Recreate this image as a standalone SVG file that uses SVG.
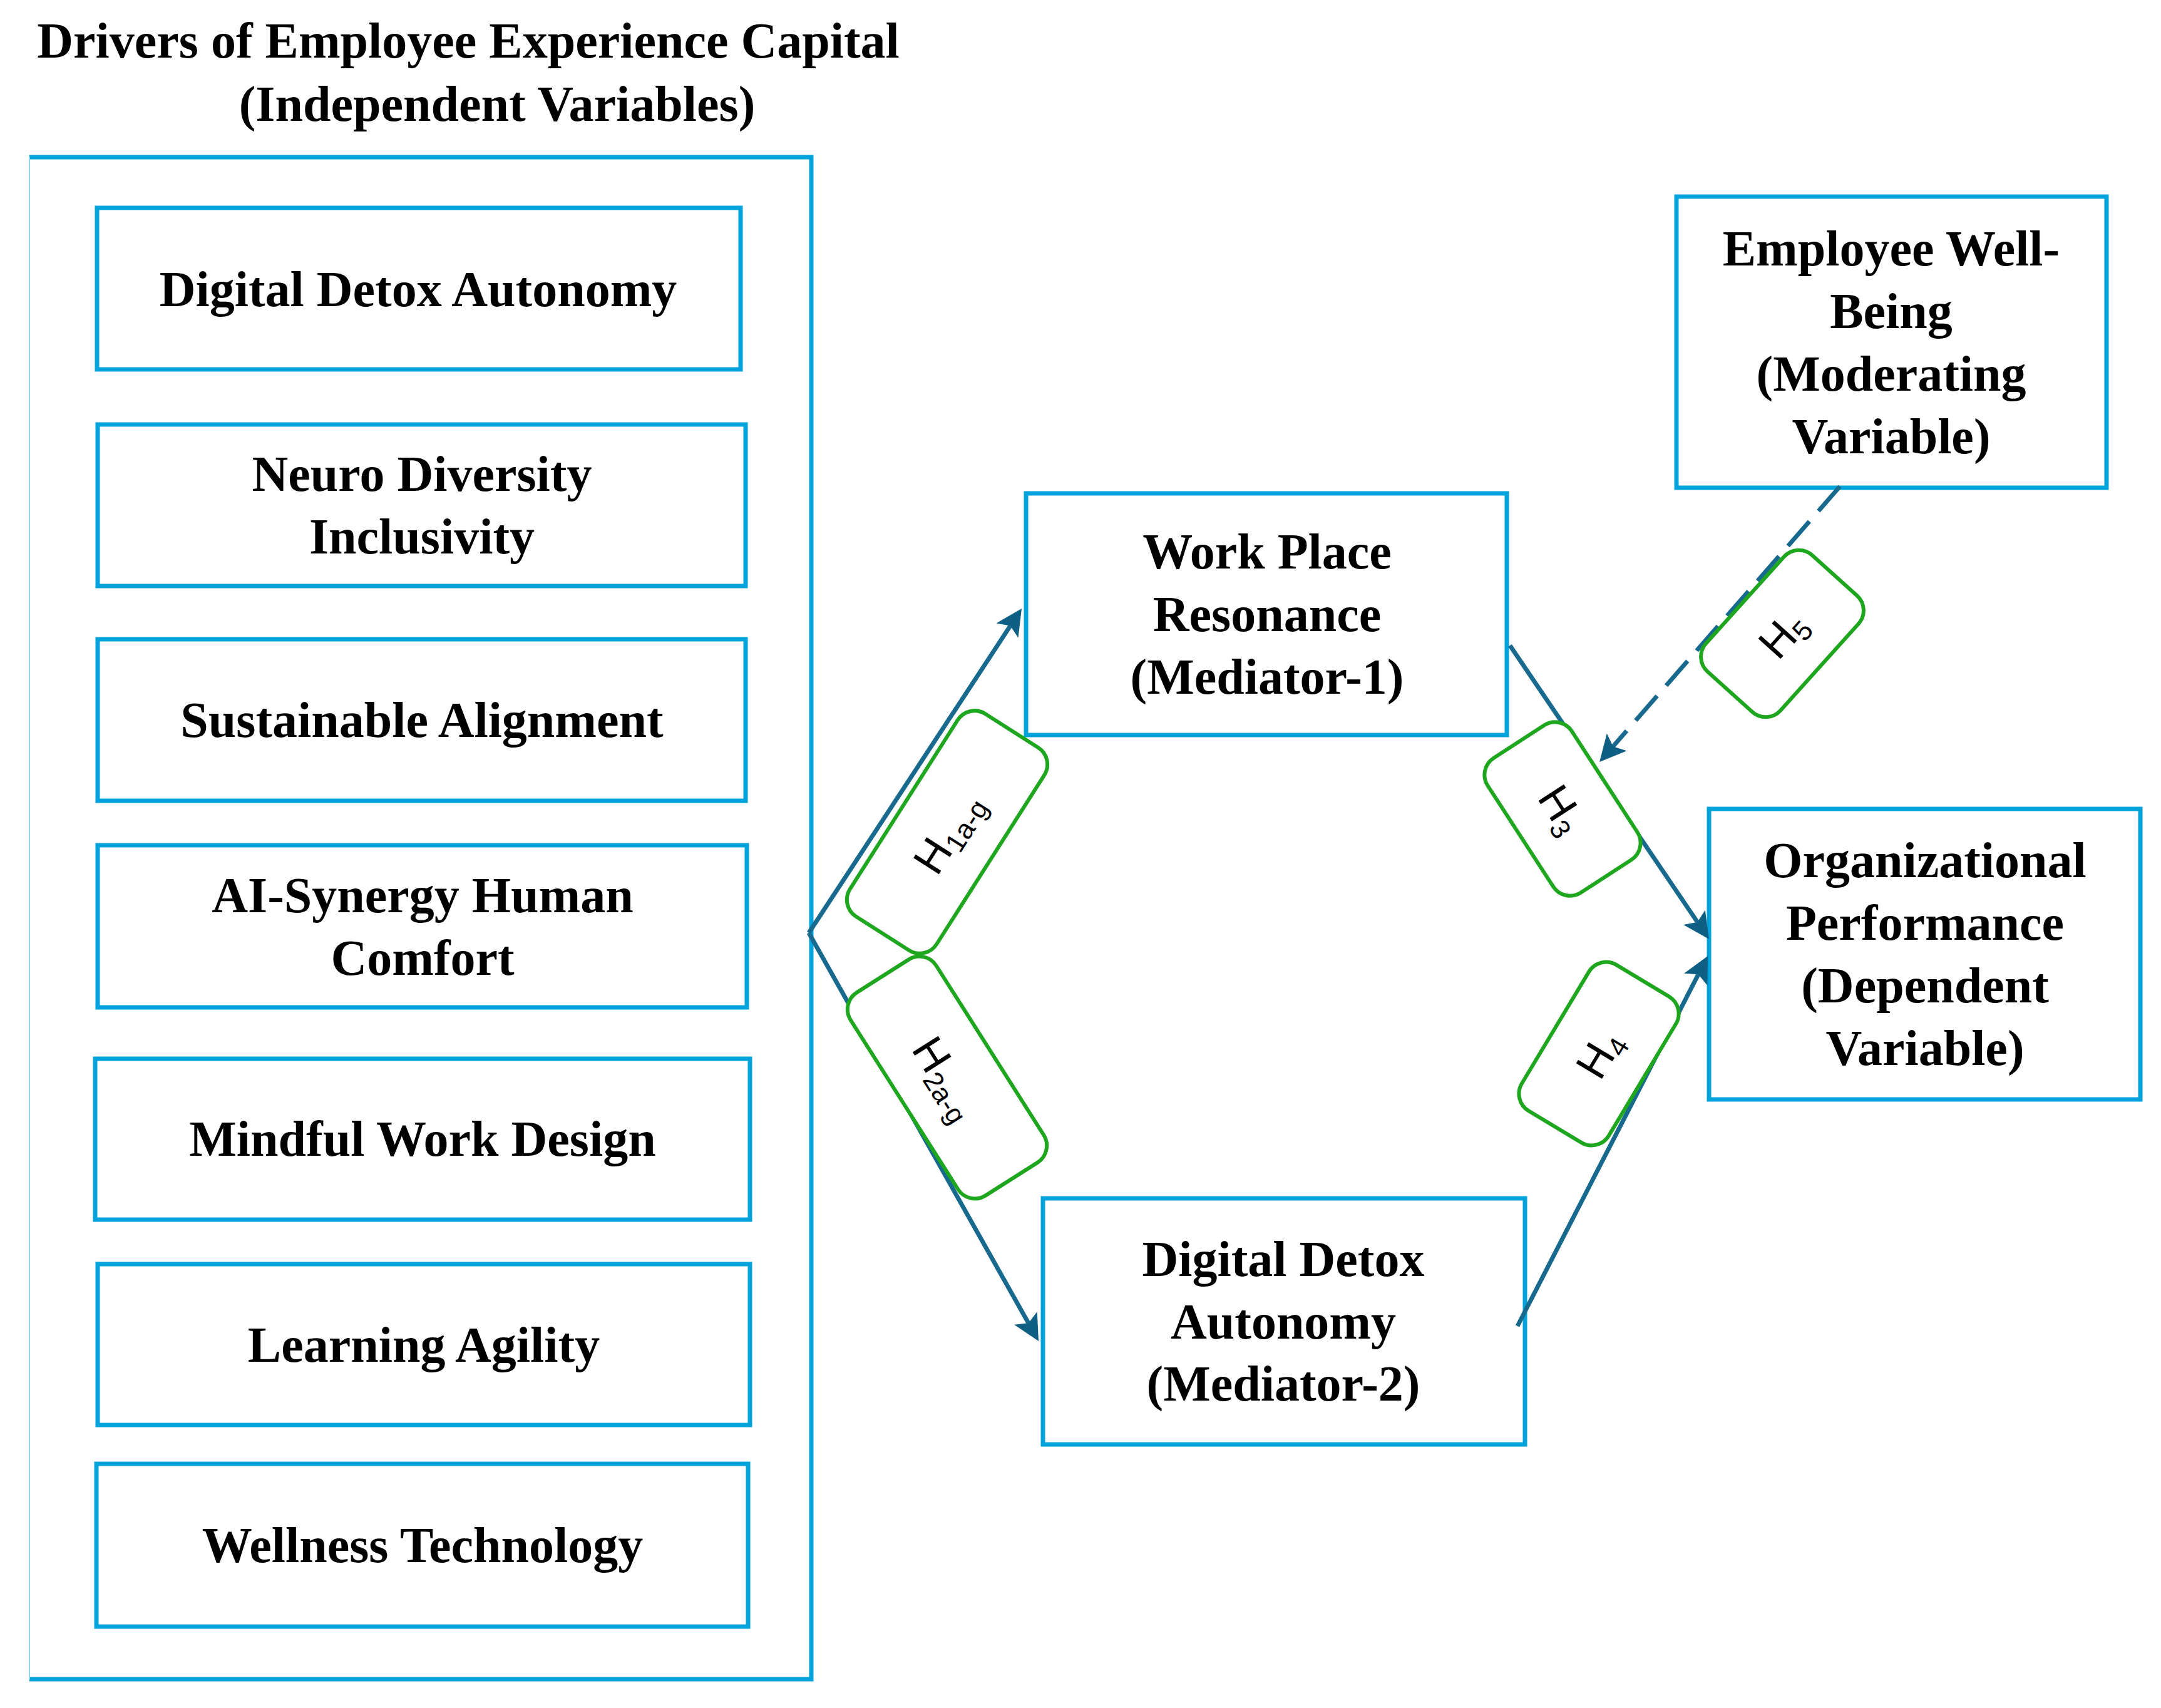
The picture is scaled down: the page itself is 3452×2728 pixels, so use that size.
<svg xmlns="http://www.w3.org/2000/svg" width="3452" height="2728" viewBox="0 0 3452 2728">
<style>
.box{fill:#ffffff;stroke:#00a3dc;stroke-width:7}
.t{font-family:"Liberation Serif","Times New Roman",serif;font-weight:bold;font-size:80px;fill:#000;text-anchor:middle}
.con{fill:none;stroke:#18698e;stroke-width:7}
.dash{stroke-dasharray:52 22}
.lab{fill:#ffffff;stroke:#1ea61e;stroke-width:6}
.h{font-family:"Liberation Sans",Arial,sans-serif;font-size:70px;fill:#000;text-anchor:middle}
.sub{font-size:44px}
</style>
<defs>
<marker id="arr" markerUnits="userSpaceOnUse" markerWidth="50" markerHeight="46" refX="34" refY="21" orient="auto">
<path d="M0,0 L42,21 L0,42 L9,21 Z" fill="#0f5f84"/>
</marker>
</defs>
<rect width="3452" height="2728" fill="#ffffff"/>

<g id="title">
<text class="t" x="748" y="92">Drivers of Employee Experience Capital</text>
<text class="t" x="794" y="193">(Independent Variables)</text>
</g>

<g id="drivers-container">
<path d="M47,251 L1296,251 L1296,2682 L47,2682" fill="none" stroke="#00a3dc" stroke-width="7"/>
<line x1="47" y1="251" x2="47" y2="2682" stroke="#8fd6f0" stroke-width="2"/>
</g>

<g id="n1"><rect class="box" x="155" y="332" width="1028" height="258"/><text class="t" x="668" y="489">Digital Detox Autonomy</text></g>
<g id="n2"><rect class="box" x="156" y="678" width="1035" height="258"/><text class="t" x="674" y="784">Neuro Diversity</text><text class="t" x="674" y="884">Inclusivity</text></g>
<g id="n3"><rect class="box" x="156" y="1021" width="1035" height="258"/><text class="t" x="674" y="1177">Sustainable Alignment</text></g>
<g id="n4"><rect class="box" x="156" y="1350" width="1037" height="259"/><text class="t" x="675" y="1457">AI-Synergy Human</text><text class="t" x="675" y="1557">Comfort</text></g>
<g id="n5"><rect class="box" x="152" y="1691" width="1046" height="257"/><text class="t" x="675" y="1846">Mindful Work Design</text></g>
<g id="n6"><rect class="box" x="156" y="2019" width="1042" height="257"/><text class="t" x="677" y="2175">Learning Agility</text></g>
<g id="n7"><rect class="box" x="154" y="2338" width="1041" height="260"/><text class="t" x="675" y="2495">Wellness Technology</text></g>

<g id="mediator1"><rect class="box" x="1639" y="788" width="768" height="386"/>
<text class="t" x="2024" y="908">Work Place</text><text class="t" x="2024" y="1008">Resonance</text><text class="t" x="2024" y="1108">(Mediator-1)</text></g>

<g id="mediator2"><rect class="box" x="1666" y="1914" width="770" height="393"/>
<text class="t" x="2050" y="2038">Digital Detox</text><text class="t" x="2050" y="2138">Autonomy</text><text class="t" x="2050" y="2237">(Mediator-2)</text></g>

<g id="moderator"><rect class="box" x="2678" y="314" width="687" height="465"/>
<text class="t" x="3021" y="424">Employee Well-</text><text class="t" x="3021" y="524">Being</text><text class="t" x="3021" y="624">(Moderating</text><text class="t" x="3021" y="724">Variable)</text></g>

<g id="dependent"><rect class="box" x="2730" y="1292" width="689" height="464"/>
<text class="t" x="3075" y="1401">Organizational</text><text class="t" x="3075" y="1501">Performance</text><text class="t" x="3075" y="1601">(Dependent</text><text class="t" x="3075" y="1701">Variable)</text></g>

<g id="connectors">
<line class="con" x1="1292" y1="1490" x2="1627.6" y2="978.7" marker-end="url(#arr)"/>
<line class="con" x1="1292" y1="1490" x2="1655.1" y2="2135" marker-end="url(#arr)"/>
<line class="con" x1="2412" y1="1031" x2="2725.5" y2="1493.4" marker-end="url(#arr)"/>
<line class="con" x1="2424" y1="2118" x2="2724.3" y2="1534.1" marker-end="url(#arr)"/>
<line class="con dash" x1="2939" y1="777" x2="2560.3" y2="1211" marker-end="url(#arr)"/>
</g>

<g id="labels">
<g id="H1" transform="translate(1513,1329) rotate(-57.5)"><rect class="lab" x="-192" y="-82" width="384" height="164" rx="32"/><text class="h" x="0" y="25">H<tspan class="sub" dy="11">1a-g</tspan></text></g>
<g id="H2" transform="translate(1513,1721) rotate(57.6)"><rect class="lab" x="-192" y="-81" width="384" height="162" rx="32"/><text class="h" x="0" y="25">H<tspan class="sub" dy="11">2a-g</tspan></text></g>
<g id="H3" transform="translate(2496,1292) rotate(57)"><rect class="lab" x="-128" y="-80" width="256" height="160" rx="32"/><text class="h" x="0" y="25">H<tspan class="sub" dy="11">3</tspan></text></g>
<g id="H4" transform="translate(2554,1683) rotate(-59)"><rect class="lab" x="-136" y="-81" width="272" height="162" rx="32"/><text class="h" x="0" y="25">H<tspan class="sub" dy="11">4</tspan></text></g>
<g id="H5" transform="translate(2847,1012) rotate(-48)"><rect class="lab" x="-125" y="-80" width="250" height="160" rx="32"/><text class="h" x="0" y="25">H<tspan class="sub" dy="11">5</tspan></text></g>
</g>
</svg>
